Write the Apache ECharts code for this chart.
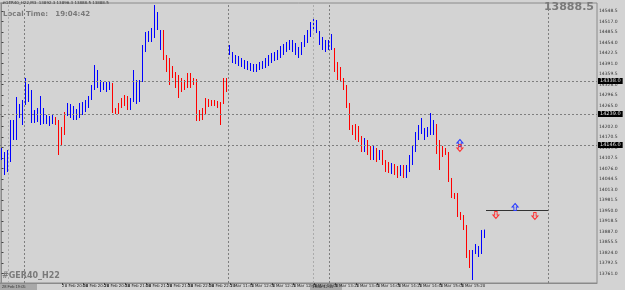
<!DOCTYPE html>
<html>
<head>
<meta charset="utf-8">
<script src="https://cdn.jsdelivr.net/npm/echarts@6/dist/echarts.min.js"></script>
<style>
  html, body { margin: 0; padding: 0; background: #d3d3d3; }
  #main { width: 625px; height: 290px; }
</style>
</head>
<body>
<div id="main"></div>
<script>
// [open, close, low, high], one per bar (left to right)
const candles = [
  [14110, 14131, 14101, 14137], [14065, 14116, 14056, 14125], [14086, 14107, 14065, 14131], [14107, 14209, 14095, 14221],
  [14176, 14209, 14161, 14221], [14197, 14251, 14161, 14290], [14236, 14257, 14227, 14269], [14221, 14266, 14206, 14281],
  [14281, 14335, 14266, 14347], [14281, 14317, 14275, 14329], [14245, 14296, 14212, 14311], [14221, 14242, 14212, 14251],
  [14227, 14239, 14215, 14257], [14212, 14287, 14206, 14293], [14215, 14245, 14209, 14257], [14215, 14227, 14209, 14236],
  [14212, 14224, 14203, 14233], [14218, 14227, 14209, 14236], [14224, 14212, 14206, 14230], [14215, 14155, 14116, 14221],
  [14191, 14155, 14146, 14200], [14236, 14182, 14176, 14245], [14242, 14266, 14233, 14272], [14245, 14260, 14227, 14269],
  [14236, 14251, 14221, 14263], [14230, 14245, 14221, 14254], [14242, 14263, 14227, 14272], [14245, 14266, 14236, 14275],
  [14257, 14269, 14245, 14281], [14266, 14287, 14257, 14293], [14287, 14317, 14281, 14326], [14320, 14362, 14311, 14386],
  [14341, 14365, 14317, 14371], [14317, 14332, 14305, 14341], [14323, 14329, 14311, 14335], [14314, 14326, 14305, 14335],
  [14320, 14329, 14311, 14335], [14326, 14251, 14242, 14332], [14251, 14245, 14239, 14257], [14266, 14245, 14239, 14272],
  [14281, 14263, 14257, 14287], [14287, 14272, 14263, 14296], [14281, 14263, 14251, 14293], [14263, 14281, 14251, 14287],
  [14281, 14362, 14275, 14371], [14275, 14335, 14269, 14341], [14281, 14335, 14275, 14341], [14341, 14437, 14335, 14446],
  [14431, 14476, 14425, 14485], [14461, 14479, 14455, 14488], [14467, 14485, 14455, 14497], [14491, 14536, 14467, 14566],
  [14497, 14527, 14491, 14545], [14437, 14482, 14431, 14491], [14485, 14407, 14401, 14491], [14407, 14377, 14365, 14416],
  [14401, 14356, 14326, 14407], [14377, 14353, 14347, 14383], [14359, 14326, 14317, 14365], [14347, 14311, 14287, 14356],
  [14341, 14317, 14305, 14347], [14335, 14320, 14311, 14341], [14356, 14326, 14317, 14362], [14347, 14329, 14317, 14362],
  [14341, 14335, 14326, 14347], [14341, 14227, 14218, 14344], [14245, 14227, 14218, 14251], [14251, 14230, 14221, 14257],
  [14272, 14242, 14236, 14287], [14275, 14266, 14260, 14284], [14272, 14269, 14263, 14281], [14275, 14269, 14263, 14281],
  [14272, 14266, 14257, 14278], [14269, 14221, 14206, 14275], [14317, 14281, 14269, 14347], [14323, 14311, 14305, 14347],
  [14422, 14437, 14416, 14446], [14401, 14416, 14392, 14425], [14395, 14410, 14389, 14416], [14392, 14407, 14383, 14413],
  [14389, 14401, 14380, 14407], [14383, 14395, 14374, 14401], [14380, 14392, 14371, 14398], [14374, 14386, 14368, 14392],
  [14374, 14383, 14365, 14389], [14371, 14383, 14365, 14389], [14377, 14389, 14371, 14395], [14380, 14392, 14374, 14398],
  [14383, 14401, 14377, 14407], [14392, 14407, 14383, 14416], [14401, 14416, 14392, 14422], [14407, 14419, 14398, 14425],
  [14410, 14425, 14401, 14431], [14416, 14437, 14407, 14443], [14425, 14443, 14416, 14449], [14437, 14449, 14425, 14455],
  [14440, 14455, 14431, 14461], [14437, 14452, 14425, 14461], [14431, 14443, 14416, 14452], [14416, 14431, 14407, 14440],
  [14425, 14446, 14416, 14455], [14446, 14467, 14440, 14476], [14461, 14482, 14452, 14491], [14476, 14506, 14470, 14515],
  [14497, 14515, 14491, 14524], [14491, 14509, 14482, 14521], [14452, 14482, 14446, 14488], [14437, 14461, 14431, 14470],
  [14434, 14452, 14425, 14461], [14440, 14452, 14431, 14461], [14440, 14473, 14431, 14479], [14431, 14377, 14365, 14437],
  [14389, 14371, 14341, 14395], [14374, 14341, 14335, 14380], [14341, 14317, 14311, 14347], [14320, 14266, 14257, 14326],
  [14266, 14197, 14191, 14272], [14200, 14182, 14176, 14206], [14203, 14167, 14161, 14209], [14197, 14161, 14155, 14203],
  [14161, 14137, 14125, 14173], [14137, 14155, 14125, 14167], [14155, 14131, 14116, 14161], [14131, 14113, 14101, 14143],
  [14113, 14131, 14101, 14143], [14131, 14107, 14095, 14137], [14107, 14122, 14101, 14131], [14122, 14095, 14086, 14131],
  [14095, 14077, 14065, 14101], [14086, 14071, 14062, 14095], [14071, 14083, 14059, 14092], [14083, 14065, 14056, 14089],
  [14071, 14059, 14047, 14083], [14065, 14080, 14053, 14086], [14077, 14059, 14047, 14086], [14065, 14077, 14047, 14086],
  [14077, 14101, 14065, 14116], [14101, 14131, 14086, 14146], [14131, 14176, 14125, 14185], [14173, 14197, 14161, 14206],
  [14191, 14215, 14179, 14227], [14170, 14188, 14161, 14197], [14179, 14191, 14170, 14200], [14185, 14218, 14176, 14242],
  [14191, 14209, 14176, 14221], [14203, 14125, 14119, 14209], [14155, 14125, 14071, 14161], [14137, 14116, 14110, 14143],
  [14131, 14122, 14116, 14137], [14116, 14041, 14035, 14125], [14041, 13993, 13987, 14047], [13996, 13990, 13984, 14002],
  [13993, 13939, 13930, 14002], [13939, 13927, 13921, 13945], [13930, 13897, 13891, 13936], [13897, 13816, 13807, 13906],
  [13825, 13816, 13777, 13831], [13759, 13822, 13741, 13831], [13825, 13843, 13819, 13849], [13816, 13837, 13810, 13843],
  [13825, 13882, 13819, 13891], [13873, 13888.5, 13867, 13892.3]
];

const priceTicks = [
  13761.0, 13792.5, 13824.0, 13855.5, 13887.0, 13918.5, 13950.0, 13981.5, 14013.0, 14044.5,
  14076.0, 14107.5, 14139.0, 14170.5, 14202.0, 14233.5, 14265.0, 14296.5, 14328.0, 14359.5,
  14391.0, 14422.5, 14454.0, 14485.5, 14517.0, 14548.5
];

const timeLabels = [
  '28 Feb 19:40', '28 Feb 20:00', '28 Feb 20:20', '28 Feb 20:40', '28 Feb 21:00', '28 Feb 21:20',
  '28 Feb 21:40', '28 Feb 22:00', '28 Feb 22:20', '1 Mar 11:40', '1 Mar 12:00', '1 Mar 12:20',
  '1 Mar 12:40', '1 Mar 13:00', '1 Mar 13:20', '1 Mar 13:40', '1 Mar 14:00', '1 Mar 14:20',
  '1 Mar 14:40', '1 Mar 15:00', '1 Mar 15:20', '1 Mar 15:40'
];

const levelPrices = [14338, 14239, 14146];   // dotted horizontal lines
const lastPrice = 13888.5;
const orderLevel = 13951;                   // short solid line on the right
const vLines = [2.2, 7.5, 75.5, 103.8, 109.2, 182.2]; // bar positions of vertical dotted lines
const upArrows = [[152.8, 14152], [171.2, 13960]];
const downArrows = [[152.8, 14137], [164.8, 13936], [177.8, 13933]];

const upPath = 'path://M5,0 L10,5 L7,5 L7,10 L3,10 L3,5 L0,5 Z';
const downPath = 'path://M3,0 L7,0 L7,5 L10,5 L5,10 L0,5 L3,5 Z';

const tickPos = timeLabels.map((t, k) => 13.2 + 7 * k);

const priceLabel = {
  show: true, position: 'end', distance: 1,
  backgroundColor: '#000', color: '#e0e0e0',
  fontSize: 5, fontFamily: 'DejaVu Sans', padding: [1, 2, 0, 2],
  formatter: p => p.value.toFixed(1)
};

const markLineData = [];
vLines.forEach((v, k) => {
  markLineData.push({
    xAxis: v,
    lineStyle: { color: (k === 0 || k === 3) ? '#ababab' : '#7e7e7e', type: [2, 2], width: 1 },
    label: { show: false }
  });
});
levelPrices.forEach(p => {
  markLineData.push({
    yAxis: p,
    lineStyle: { color: '#7e7e7e', type: [2, 2], width: 1 },
    label: priceLabel
  });
});
markLineData.push({ yAxis: lastPrice, lineStyle: { opacity: 0 }, label: priceLabel });
markLineData.push([
  { coord: [161.5, orderLevel], lineStyle: { color: '#333', type: 'solid', width: 1 }, label: { show: false } },
  { coord: [182.2, orderLevel] }
]);

const markPointData = [];
upArrows.forEach(a => markPointData.push({
  coord: a, symbol: upPath, symbolSize: [6, 7],
  itemStyle: { color: 'rgba(0,0,0,0)', borderColor: '#2a3cff', borderWidth: 1 }
}));
downArrows.forEach(a => markPointData.push({
  coord: a, symbol: downPath, symbolSize: [6, 7],
  itemStyle: { color: 'rgba(0,0,0,0)', borderColor: '#ff3030', borderWidth: 1 }
}));

const chart = echarts.init(document.getElementById('main'), null, { renderer: 'canvas' });

chart.setOption({
  backgroundColor: '#d3d3d3',
  animation: false,
  textStyle: { fontFamily: 'DejaVu Sans' },
  grid: { left: 0, right: 28, top: 3, bottom: 7, show: true, borderColor: '#8a8a8a', borderWidth: 1 },
  xAxis: {
    type: 'value', min: -0.5, max: 198.5,
    splitLine: { show: false },
    axisLine: { lineStyle: { color: '#8a8a8a' } },
    axisTick: { customValues: tickPos, length: 2, lineStyle: { color: '#444' } },
    axisLabel: {
      customValues: tickPos, fontSize: 4, color: '#222', align: 'left', margin: 1,
      formatter: v => timeLabels[Math.round((v - 13.2) / 7)]
    }
  },
  yAxis: {
    type: 'value', position: 'right', min: 13732, max: 14572, scale: true,
    splitLine: { show: false },
    axisLine: { show: true, lineStyle: { color: '#8a8a8a' } },
    axisTick: { customValues: priceTicks, length: 2, lineStyle: { color: '#444' } },
    axisLabel: {
      customValues: priceTicks, fontSize: 4.5, color: '#333', margin: 2,
      formatter: v => v.toFixed(1)
    }
  },
  series: [{
    type: 'candlestick',
    data: candles.map((c, i) => [i, c[0], c[1], c[2], c[3]]),
    encode: { x: 0, y: [1, 2, 3, 4] },
    barWidth: 1,
    itemStyle: {
      color: '#0000ff', color0: '#ff0000',
      borderColor: '#0000ff', borderColor0: '#ff0000', borderWidth: 1
    },
    markLine: { symbol: 'none', silent: true, data: markLineData },
    markPoint: { silent: true, label: { show: false }, data: markPointData }
  }],
  graphic: [
    { type: 'text', left: 2, top: 1, style: { text: '#GER40_H22,M3  13892.3 13896.3 13888.5 13888.5', fontSize: 4, fill: '#333', fontFamily: 'DejaVu Sans' } },
    { type: 'text', left: 3, top: 11, style: { text: 'Local Time:   19:04:42', fontSize: 7, fontWeight: 'bold', fill: '#7a7a7a', fontFamily: 'DejaVu Sans' } },
    { type: 'text', right: 31, top: 2, style: { text: '13888.5', fontSize: 11, fontWeight: 'bold', fill: '#7a7a7a', fontFamily: 'DejaVu Sans' } },
    { type: 'text', left: 2, top: 272, style: { text: '#GER40_H22', fontSize: 8, fontWeight: 'bold', fill: '#7a7a7a', fontFamily: 'DejaVu Sans' } },
    { type: 'group', left: 0, top: 284, children: [
      { type: 'rect', shape: { x: 0, y: 0, width: 37, height: 6 }, style: { fill: '#a9a9a9' } },
      { type: 'text', x: 2, y: 0.5, style: { text: '28 Feb 19:05', fontSize: 4, fill: '#333' } }
    ] },
    { type: 'group', left: 310, top: 284, children: [
      { type: 'rect', shape: { x: 0, y: 0, width: 32, height: 6 }, style: { fill: '#a9a9a9' } },
      { type: 'text', x: 2, y: 0.5, style: { text: '1 Mar 12:55', fontSize: 4, fill: '#333' } }
    ] }
  ]
});
</script>
</body>
</html>
